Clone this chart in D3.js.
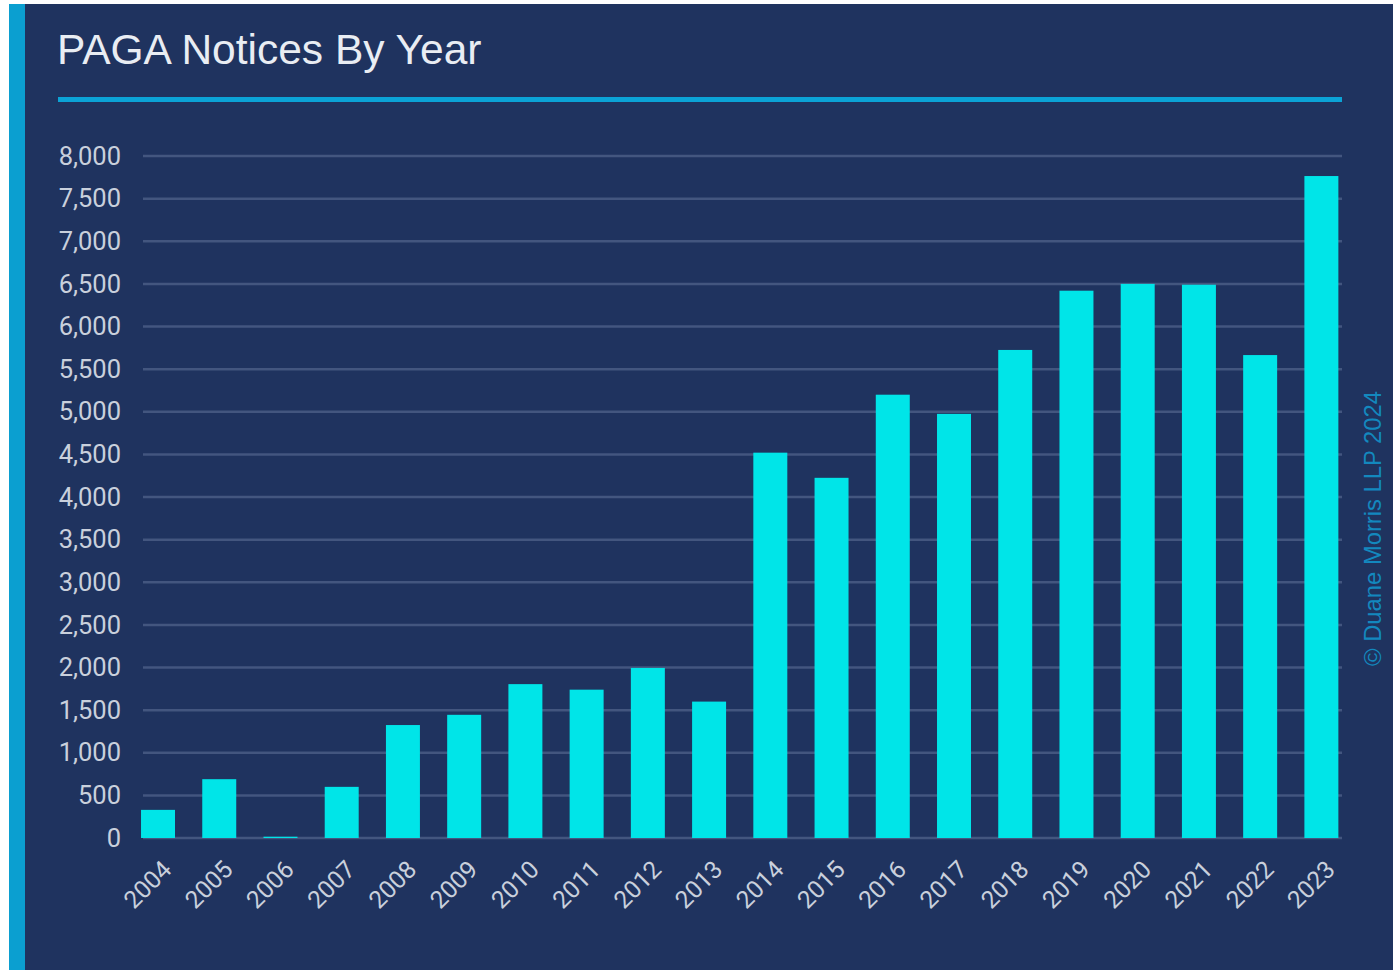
<!DOCTYPE html>
<html>
<head>
<meta charset="utf-8">
<script src="https://cdn.jsdelivr.net/npm/d3@7"></script>
<style>
  body { margin: 0; background: #fff; }
  svg { display: block; }
</style>
</head>
<body>
<script>
// data
const years = ['2004', '2005', '2006', '2007', '2008', '2009', '2010', '2011', '2012', '2013',
               '2014', '2015', '2016', '2017', '2018', '2019', '2020', '2021', '2022', '2023']
const notices = [330, 690, 15, 600, 1325, 1445, 1805, 1740, 1995, 1600,
                 4520, 4225, 5200, 4975, 5725, 6420, 6500, 6490, 5665, 7765]
const yTicks = [0, 500, 1000, 1500, 2000, 2500, 3000, 3500, 4000, 4500, 5000, 5500, 6000, 6500, 7000, 7500, 8000]

const W = 1393, H = 970

let svg = d3.select('body').append('svg')
    .attr('width', W)
    .attr('height', H)

// panel background + left accent strip
svg.append('rect')
    .attr('x', 9).attr('y', 4)
    .attr('width', 16).attr('height', H - 4)
    .attr('fill', '#0b9fd0')
svg.append('rect')
    .attr('x', 25).attr('y', 4)
    .attr('width', W - 25).attr('height', H - 4)
    .attr('fill', '#1f335f')

// title and underline
svg.append('text')
    .attr('x', 57).attr('y', 64)
    .attr('font-family', 'Liberation Sans, Arial, sans-serif')
    .attr('font-size', 42.5)
    .attr('fill', '#e9edf3')
    .text('PAGA Notices By Year')

svg.append('line')
    .attr('x1', 58).attr('x2', 1342)
    .attr('y1', 99.5).attr('y2', 99.5)
    .attr('stroke', '#0ba3d6')
    .attr('stroke-width', 5)

// scales
let x = d3.scaleBand()
    .domain(years)
    .range([127.4, 1352])
    .paddingInner(0.445)
    .paddingOuter(0.2225)

let y = d3.scaleLinear()
    .domain([0, 8000])
    .range([838, 156])

// gridlines
svg.append('g')
    .selectAll('line')
    .data(yTicks)
    .enter()
    .append('line')
        .attr('x1', 143).attr('x2', 1342)
        .attr('y1', d => y(d)).attr('y2', d => y(d))
        .attr('stroke', '#43567f')
        .attr('stroke-width', 2.5)

// y axis labels
let yAxis = d3.axisLeft(y)
    .tickValues(yTicks)
    .tickFormat(d3.format(','))
    .tickSize(0)
    .tickPadding(0)

let gy = svg.append('g')
    .attr('transform', 'translate(121,0)')
    .call(yAxis)
gy.select('.domain').remove()
gy.selectAll('text')
    .attr('font-family', 'Roboto, sans-serif')
    .attr('font-size', 25.5)
    .attr('fill', '#c9d0dc')

// bars
svg.selectAll('.bar')
    .data(notices)
    .enter()
    .append('rect')
        .attr('class', 'bar')
        .attr('x', (d, i) => x(years[i]))
        .attr('y', d => y(d))
        .attr('width', x.bandwidth())
        .attr('height', d => y(0) - y(d))
        .attr('fill', '#00e5e8')

// x axis labels, rotated
let xAxis = d3.axisBottom(x)
    .tickSize(0)
    .tickPadding(0)

let gx = svg.append('g')
    .attr('transform', 'translate(0,838)')
    .call(xAxis)
gx.select('.domain').remove()
gx.selectAll('text')
    .attr('font-family', 'Roboto, sans-serif')
    .attr('font-size', 24.5)
    .attr('fill', '#c9d0dc')
    .attr('text-anchor', 'end')
    .attr('dy', 0)
    .attr('transform', 'translate(15,33) rotate(-45)')

// copyright, vertical
svg.append('text')
    .attr('transform', 'translate(1381,666) rotate(-90)')
    .attr('font-family', 'Liberation Sans, Arial, sans-serif')
    .attr('font-size', 23.8)
    .attr('fill', '#1388be')
    .text('© Duane Morris LLP 2024')
</script>
</body>
</html>
